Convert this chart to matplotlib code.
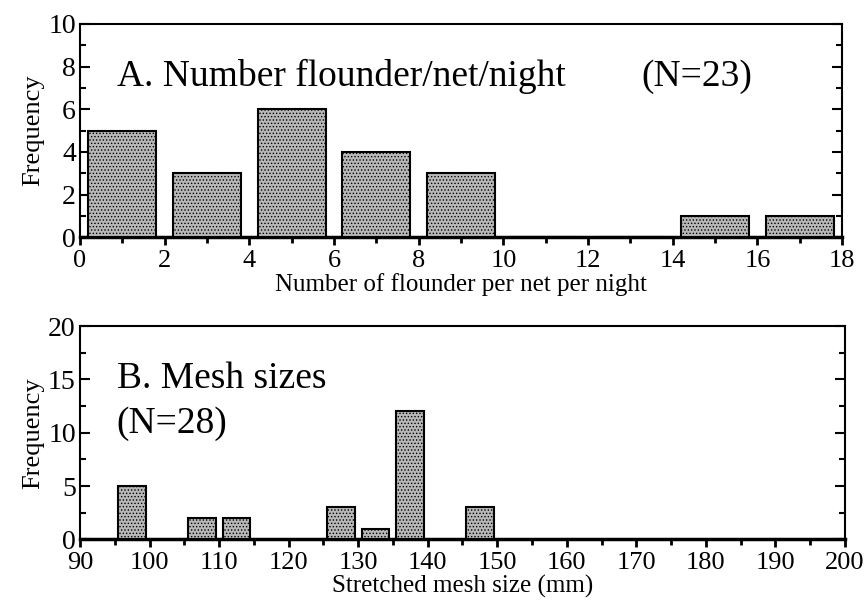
import matplotlib
matplotlib.use("Agg")
import matplotlib.pyplot as plt
from matplotlib.ticker import MultipleLocator

plt.rcParams['font.family'] = ['Liberation Serif', 'DejaVu Serif']
plt.rcParams['hatch.color'] = '#555555'
plt.rcParams['hatch.linewidth'] = 0.6

# panel A: flounder per net per night (bins of 2)
bin_centers_a = [1, 3, 5, 7, 9, 11, 13, 15, 17]
freq_a = [5, 3, 6, 4, 3, 0, 0, 1, 1]

# panel B: stretched mesh size (mm)
mesh_centers = [97.5, 107.5, 112.5, 127.5, 132.5, 137.5, 147.5]
freq_b = [5, 2, 2, 3, 1, 12, 3]

fig = plt.figure(figsize=(8.64, 6.13), dpi=100)
ax1 = fig.add_axes([0.0926, 0.613, 0.882, 0.348])
ax2 = fig.add_axes([0.0926, 0.12, 0.8854, 0.348])

bar_kw = dict(facecolor='#b8b8b8', edgecolor='black', linewidth=1.5,
              hatch='.....', zorder=3)

ax1.bar(bin_centers_a, freq_a, width=1.6, **bar_kw)
ax2.bar(mesh_centers, freq_b, width=4, **bar_kw)

def style(ax, xmaj, xmin, ymaj, ymin):
    ax.xaxis.set_major_locator(MultipleLocator(xmaj))
    ax.xaxis.set_minor_locator(MultipleLocator(xmin))
    ax.yaxis.set_major_locator(MultipleLocator(ymaj))
    ax.yaxis.set_minor_locator(MultipleLocator(ymin))
    for s in ax.spines.values():
        s.set_linewidth(1.5)
    ax.spines['bottom'].set_linewidth(2.5)
    ax.tick_params(axis='y', which='both', direction='in', left=True, right=True,
                   labelsize=20, width=1.5)
    ax.tick_params(axis='y', which='major', length=7, pad=3)
    ax.tick_params(axis='y', which='minor', length=4)
    ax.tick_params(axis='x', which='both', direction='out', bottom=True, top=False,
                   labelsize=19, width=2)
    ax.tick_params(axis='x', which='major', length=6, pad=3)
    ax.tick_params(axis='x', which='minor', length=4)
    ax.set_ylabel('Frequency', fontsize=19, labelpad=3)

ax1.set_xlim(0, 18)
ax1.set_ylim(0, 10)
style(ax1, 2, 1, 2, 1)
ax1.set_xlabel('Number of flounder per net per night', fontsize=18, labelpad=1)
ax1.text(0.87, 7.1, 'A. Number flounder/net/night', fontsize=27, va='baseline')
ax1.text(13.25, 7.1, '(N=23)', fontsize=27, va='baseline')

ax2.set_xlim(90, 200)
ax2.set_ylim(0, 20)
style(ax2, 10, 5, 5, 2.5)
ax2.set_xlabel('Stretched mesh size (mm)', fontsize=18, labelpad=1)
ax2.text(95.3, 14.2, 'B. Mesh sizes', fontsize=27, va='baseline')
ax2.text(95.3, 10.0, '(N=28)', fontsize=27, va='baseline')

fig.savefig('out.png', dpi=100)
